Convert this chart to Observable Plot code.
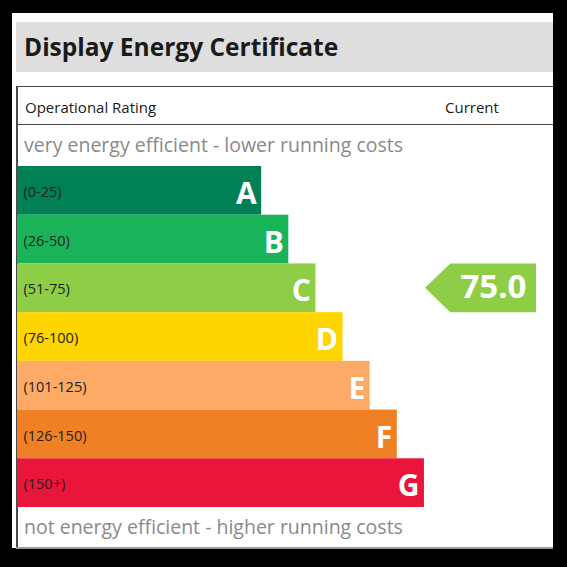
<!DOCTYPE html>
<html>
<head>
<meta charset="utf-8">
<script src="https://cdn.jsdelivr.net/npm/d3@7"></script>
<script src="https://cdn.jsdelivr.net/npm/@observablehq/plot@0.6"></script>
<style>
  html, body { margin: 0; padding: 0; width: 567px; height: 567px; background: #000; overflow: hidden; }
  body { position: relative; font-family: "Open Sans", sans-serif; }
  .abs { position: absolute; }
  #card { left: 12px; top: 13px; width: 541px; height: 535px; background: #fff; }
  #titlebar { left: 16px; top: 22px; width: 537px; height: 50px; background: #dedede; }
  #title { left: 24px; top: 34.7px; font-size: 24.5px; line-height: 1; font-weight: 700; color: #1a1a1a; white-space: nowrap; }
  .hline { height: 1.5px; background: #4a4a4a; }
  #lineTop { left: 16px; top: 85.5px; width: 537px; }
  #lineHead { left: 16px; top: 123.5px; width: 537px; }
  #lineBottom { left: 16px; top: 547px; width: 537px; height: 1.5px; background: #9a9a9a; }
  #lineLeft { left: 16px; top: 85.5px; width: 1.5px; height: 463px; background: #4a4a4a; }
  .head { top: 99.7px; font-size: 15px; line-height: 1; color: #1a1a1a; white-space: nowrap; }
  .note { font-size: 19.5px; line-height: 1; color: #8a8a8a; white-space: nowrap; left: 24px; }
  #chart { left: 0; top: 166px; }
</style>
</head>
<body>
<div id="card" class="abs"></div>
<div id="titlebar" class="abs"></div>
<div id="title" class="abs"></div>
<div id="lineTop" class="abs hline"></div>
<div id="lineHead" class="abs hline"></div>
<div id="lineLeft" class="abs"></div>
<div id="lineBottom" class="abs"></div>
<div id="headLeft" class="abs head" style="left:25px"></div>
<div id="headRight" class="abs head" style="left:445px"></div>
<div id="noteTop" class="abs note" style="top:134.7px"></div>
<div id="noteBottom" class="abs note" style="top:517px"></div>
<div id="chart" class="abs"></div>
<script>
// ---- data ----
const titleText = "Display Energy Certificate";
const headerLabels = ["Operational Rating", "Current"];
const topNote = "very energy efficient - lower running costs";
const bottomNote = "not energy efficient - higher running costs";
const bands = ["A", "B", "C", "D", "E", "F", "G"];
const rangeLabels = ["(0-25)", "(26-50)", "(51-75)", "(76-100)", "(101-125)", "(126-150)", "(150+)"];
const rangeUpper = [25, 50, 75, 100, 125, 150, Infinity];
const barLength = [9, 10, 11, 12, 13, 14, 15];   // relative bar length (steps)
const currentRating = 75.0;

// ---- styles ----
const bandColors = ["#008054", "#19b459", "#8dce46", "#ffd500", "#fcaa65", "#ef8023", "#e9153b"];
const unit = 27.13;          // px per bar-length step
const left = 17;             // px, left of bars
const rowsHeight = 341;      // px, total height of the seven rows
const arrowCol = {tip: 15.04, notch: 15.97, end: 19.13}; // in bar-length steps

document.getElementById("title").textContent = titleText;
document.getElementById("headLeft").textContent = headerLabels[0];
document.getElementById("headRight").textContent = headerLabels[1];
document.getElementById("noteTop").textContent = topNote;
document.getElementById("noteBottom").textContent = bottomNote;

const rows = bands.map((b, i) => ({band: b, i, label: rangeLabels[i], len: barLength[i]}));
const ci = rangeUpper.findIndex(u => currentRating <= u);
const arrowPts = [
  {x: arrowCol.tip, y1: ci + 0.5, y2: ci + 0.5},
  {x: arrowCol.notch, y1: ci, y2: ci + 1},
  {x: arrowCol.end, y1: ci, y2: ci + 1}
];

const chart = Plot.plot({
  width: 567,
  height: rowsHeight,
  margin: 0,
  style: {background: "transparent", fontFamily: "Open Sans, sans-serif", overflow: "visible"},
  x: {domain: [0, 20], range: [left, left + 20 * unit], axis: null},
  y: {domain: [0, bands.length], range: [0, rowsHeight], axis: null},
  color: {domain: bands, range: bandColors},
  marks: [
    Plot.rect(rows, {x1: 0, x2: "len", y1: "i", y2: d => d.i + 1, fill: "band"}),
    Plot.text(rows, {x: 0, y: d => d.i + 0.5, text: "label", textAnchor: "start", dx: 6, dy: 1.5,
      fontSize: 14.5, fill: "#222"}),
    Plot.text(rows, {x: "len", y: d => d.i + 0.5, text: "band", textAnchor: "end", dx: -5, dy: 3.5,
      fontSize: 30, fontWeight: 700, fill: "#fff"}),
    Plot.areaY(arrowPts, {x: "x", y1: "y1", y2: "y2", fill: bandColors[ci]}),
    Plot.text([currentRating], {x: arrowCol.end, y: ci + 0.5, text: d => d3.format(".1f")(d),
      textAnchor: "end", dx: -10, dy: -0.5, fontSize: 33, fontWeight: 700, fill: "#fff"})
  ]
});
document.getElementById("chart").appendChild(chart);
</script>
</body>
</html>
